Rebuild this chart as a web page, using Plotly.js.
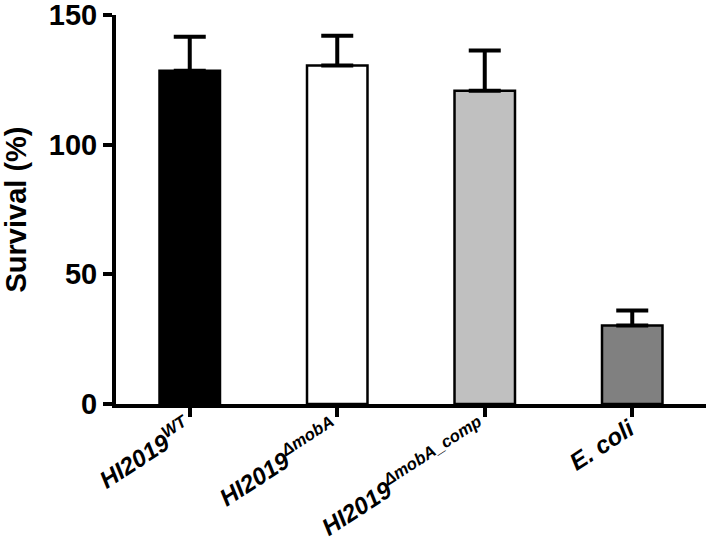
<!DOCTYPE html>
<html>
<head>
<meta charset="utf-8">
<script src="https://cdn.plot.ly/plotly-3.0.1.min.js"></script>
<style>
  html, body { margin: 0; padding: 0; background: #fff; }
  #chart { width: 708px; height: 545px; }
</style>
</head>
<body>
<div id="chart"></div>
<script>
// strains and survival values
const strains = ["WT", "mobA", "mobA_comp", "ecoli"];
const tickLabels = [
  "<i>HI2019<sup>WT</sup></i>",
  "<i>HI2019<sup>\u0394mobA</sup></i>",
  "<i>HI2019<sup>\u0394mobA_comp</sup></i>",
  "<i>E. coli</i>"
];
const yTicks = [0, 50, 100, 150];
const survival = [128.5, 130.5, 120.8, 30.3];
const errUp = [13.1, 11.5, 15.5, 5.8];
const barColors = ["#000000", "#ffffff", "#c0c0c0", "#808080"];

const trace = {
  type: "bar",
  x: strains,
  y: survival,
  width: 0.41,
  marker: {
    color: barColors,
    line: { color: "#000", width: 2.5 }
  },
  error_y: {
    type: "data",
    symmetric: false,
    array: errUp,
    arrayminus: [0, 0, 0, 0],
    color: "#000",
    thickness: 4,
    width: 16
  },
  hoverinfo: "none"
};

const fam = "Liberation Sans, Arial, sans-serif";

const layout = {
  width: 708,
  height: 545,
  margin: { l: 116, r: 2, t: 15, b: 141 },
  paper_bgcolor: "#fff",
  plot_bgcolor: "#fff",
  showlegend: false,
  font: { family: fam, color: "#000" },
  xaxis: {
    type: "category",
    range: [-0.5, 3.5],
    tickvals: strains,
    ticktext: tickLabels,
    tickangle: -33,
    tickfont: { size: 24, family: fam, weight: "bold" },
    ticklabelstandoff: -11,
    ticklabelshift: -3,
    showline: true,
    linecolor: "#000",
    linewidth: 4,
    ticks: "outside",
    ticklen: 9,
    tickwidth: 4,
    tickcolor: "#000",
    showgrid: false,
    zeroline: false,
    fixedrange: true
  },
  yaxis: {
    range: [0, 150],
    tickvals: yTicks,
    ticktext: yTicks.map(String),
    tickfont: { size: 29, family: fam, weight: "bold" },
    ticklabeloverflow: "allow",
    showline: true,
    linecolor: "#000",
    linewidth: 4,
    ticks: "outside",
    ticklen: 9,
    tickwidth: 4,
    tickcolor: "#000",
    showgrid: false,
    zeroline: false,
    fixedrange: true,
    title: {
      text: "Survival (%)",
      font: { size: 29, family: fam, weight: "bold" },
      standoff: 16
    }
  }
};

Plotly.newPlot("chart", [trace], layout, { displayModeBar: false, staticPlot: true });
</script>
</body>
</html>
